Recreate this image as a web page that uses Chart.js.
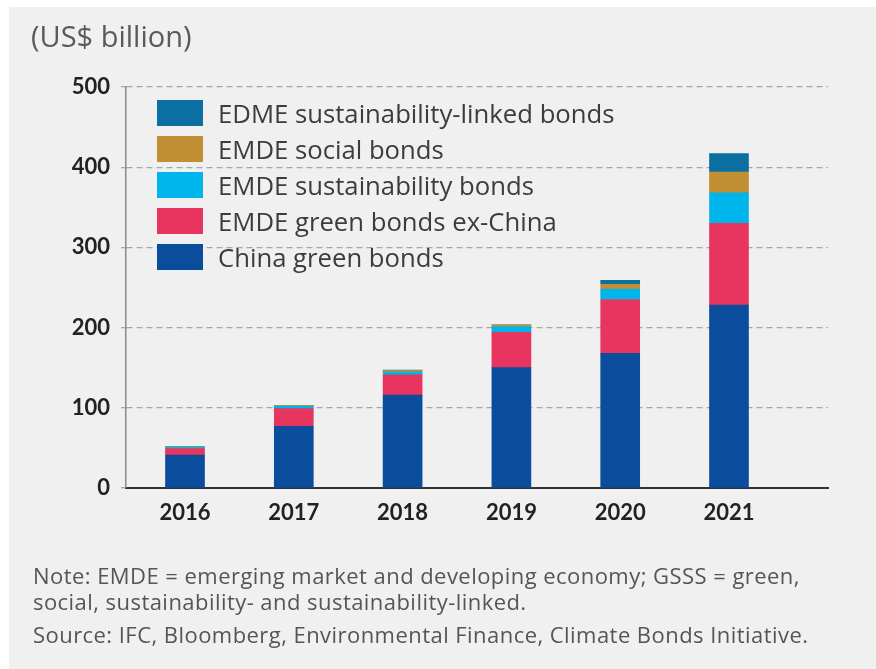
<!DOCTYPE html>
<html>
<head>
<meta charset="utf-8">
<title>EMDE GSSS bond issuance</title>
<script src="https://cdn.jsdelivr.net/npm/chart.js@4.4.0/dist/chart.umd.min.js"></script>
<style>
  html, body { margin: 0; padding: 0; background: #fff; overflow: hidden; }
  #panel { position: absolute; left: 9px; top: 7px; width: 867px; height: 662px; background: #f0f0f0; }
  #wrap { position: absolute; left: 0; top: 0; width: 876px; height: 669px; }
  #unit { position: absolute; left: 31px; top: 16px; font: 29px 'Open Sans'; color: #5a5a5a; }
  #legend { position: absolute; left: 157px; top: 100px; font: 25.7px 'Open Sans'; color: #3c3c3c; }
  .item { display: flex; align-items: center; height: 26px; margin-bottom: 10px; }
  .swatch { width: 46px; height: 26px; margin-right: 15px; flex: none; }
  #notes { position: absolute; left: 33px; top: 562px; font: 22px 'Open Sans'; letter-spacing: 0.45px; color: #555; line-height: 26px; }
  #notes p { margin: 0 0 7px 0; }
</style>
</head>
<body>
<div id="panel"></div>
<div id="wrap"><canvas id="bonds"></canvas></div>
<div id="unit">(US$ billion)</div>
<div id="legend"></div>
<div id="notes">
  <p>Note: EMDE = emerging market and developing economy; GSSS = green,<br>social, sustainability- and sustainability-linked.</p>
  <p>Source: IFC, Bloomberg, Environmental Finance, Climate Bonds Initiative.</p>
</div>
<script>
// issuance by year, US$ billion
const years = [2016, 2017, 2018, 2019, 2020, 2021];
const chinaGreen = [41, 77, 116, 150, 168, 228];
const emdeGreenExChina = [8, 22, 25, 44, 67, 102];
const emdeSustainability = [2, 3, 3.5, 7, 13, 38];
const emdeSocial = [0.5, 1, 2, 2, 6, 26];
const edmeSustainabilityLinked = [0, 0, 0.5, 0.5, 5, 23];
const yTicks = [0, 100, 200, 300, 400, 500];

const seriesNames = ['China green bonds', 'EMDE green bonds ex-China', 'EMDE sustainability bonds',
  'EMDE social bonds', 'EDME sustainability-linked bonds'];
const seriesData = [chinaGreen, emdeGreenExChina, emdeSustainability, emdeSocial, edmeSustainabilityLinked];
const seriesColors = ['#0a4d9c', '#e83560', '#00b5eb', '#c18f34', '#0b6fa1'];

const datasets = seriesNames.map((name, i) => ({
  label: name,
  data: seriesData[i],
  backgroundColor: seriesColors[i],
  borderWidth: 0,
  barThickness: 39
}));

const tickFont = { family: 'Lato', size: 22, weight: 'bold' };

new Chart(document.getElementById('bonds'), {
  type: 'bar',
  data: { labels: years, datasets: datasets },
  options: {
    responsive: true,
    maintainAspectRatio: false,
    animation: false,
    layout: { padding: { left: 0, top: 87, right: 48, bottom: 141 } },
    plugins: { legend: { display: false }, tooltip: { enabled: false } },
    scales: {
      x: {
        type: 'linear',
        stacked: true,
        offset: false,
        min: years[0] - 0.5423,
        max: years[years.length - 1] + 0.91,
        afterFit: s => { s.height = 40; },
        grid: { display: false, drawTicks: false },
        border: { display: true, color: '#333', width: 2 },
        ticks: {
          stepSize: 1,
          includeBounds: false,
          autoSkip: false,
          maxRotation: 0,
          padding: 12,
          color: '#222',
          font: tickFont,
          callback: v => Number.isInteger(v) ? String(v) : ''
        }
      },
      y: {
        stacked: true,
        min: 0,
        max: 500,
        afterFit: s => { s.width = 126; },
        afterBuildTicks: s => { s.ticks = yTicks.map(v => ({ value: v })); },
        grid: {
          color: ctx => ctx.tick && ctx.tick.value === 0 ? 'rgba(0,0,0,0)' : '#a6a6a6',
          lineWidth: 1.3,
          tickLength: 5,
          tickColor: '#a6a6a6'
        },
        // border.dash dashes the grid lines; the axis line itself stays solid
        border: { display: true, color: '#8a8a8a', width: 1.5, dash: [6, 4] },
        ticks: { padding: 11, color: '#222', font: tickFont }
      }
    }
  }
});

// legend, top series first
const legend = document.getElementById('legend');
for (let i = seriesNames.length - 1; i >= 0; i--) {
  const row = document.createElement('div');
  row.className = 'item';
  const sw = document.createElement('span');
  sw.className = 'swatch';
  sw.style.background = seriesColors[i];
  const txt = document.createElement('span');
  txt.textContent = seriesNames[i];
  row.appendChild(sw);
  row.appendChild(txt);
  legend.appendChild(row);
}
</script>
</body>
</html>
